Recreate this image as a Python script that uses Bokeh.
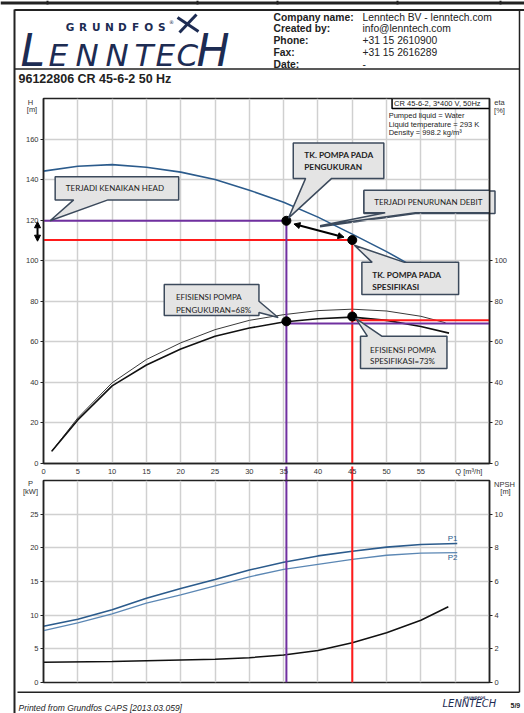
from bokeh.plotting import figure
from bokeh.models import Range1d, LinearAxis, FixedTicker, Arrow, NormalHead
from bokeh.layouts import column
from bokeh.embed import file_html
from bokeh.resources import INLINE
from bokeh.core.properties import value

# ---------------- data ----------------
q_head = [0, 5, 10, 15, 20, 25, 30, 35, 40, 45, 50, 55, 59]
head = [144.2, 146.6, 147.4, 146.1, 143.7, 140.1, 134.8, 128.8, 121.5, 113.1, 104.5, 95.0, 86.0]

q_eta_upper = [1.2, 5, 10, 15, 20, 25, 30, 35, 40, 45, 50, 55, 58.6]
eta_upper = [6.0, 22.5, 39.8, 51.3, 59.5, 66.0, 70.6, 73.4, 75.4, 76.1, 75.2, 72.6, 69.4]
q_eta_lower = [1.2, 5, 10, 15, 20, 25, 30, 35, 40, 45, 50, 55, 59.1]
eta_lower = [6.0, 21.5, 38.3, 48.6, 56.5, 62.8, 66.8, 69.8, 71.4, 72.2, 70.6, 67.6, 64.3]

q_power = [0, 5, 10, 15, 20, 25, 30, 35, 40, 45, 50, 55, 60.3]
p1 = [8.35, 9.4, 10.8, 12.5, 13.95, 15.3, 16.7, 17.85, 18.8, 19.5, 20.1, 20.5, 20.65]
p2 = [7.7, 8.85, 10.2, 11.8, 13.0, 14.35, 15.7, 16.8, 17.55, 18.3, 18.9, 19.2, 19.3]

q_npsh = [0, 10, 20, 25, 30, 35, 40, 45, 50, 55, 59]
npsh = [1.2, 1.25, 1.34, 1.38, 1.47, 1.64, 1.9, 2.36, 2.96, 3.7, 4.5]

# operating points (measured = purple, specification = red)
q_measured, h_measured, eta_measured, eta_measured_line = 35.4, 119.7, 70.1, 69.0
q_spec, h_spec, eta_spec, eta_spec_line = 45.0, 110.2, 72.5, 70.6

q_ticks = [0, 5, 10, 15, 20, 25, 30, 35, 40, 45, 50, 55]
q_grid = [0, 5, 10, 15, 20, 25, 30, 35, 40, 45, 50, 55, 60]
h_ticks = [0, 20, 40, 60, 80, 100, 120, 140, 160]
h_grid = [0, 20, 40, 60, 80, 100, 120, 140, 160, 180]
eta_ticks = [0, 20, 40, 60, 80, 100]
p_ticks = [0, 5, 10, 15, 20, 25]
p_grid = [0, 5, 10, 15, 20, 25, 30]
npsh_ticks = [0, 2, 4, 6, 8, 10]

company_labels = ["Company name:", "Created by:", "Phone:", "Fax:", "Date:"]
company_values = ["Lenntech BV - lenntech.com", "info@lenntech.com", "+31 15 2610900", "+31 15 2616289", "-"]
title_text = "96122806 CR 45-6-2 50 Hz"

# ---------------- styles / page geometry ----------------
NAVY = "#1d2c53"
BLUE = "#2b5b8c"
BLUE2 = "#5b87b4"
PURPLE = "#7030a0"
RED = "#ff1a1a"
GRID = "#d0d0d0"
DARK = "#222222"
AX_FONT = "Liberation Sans"
PW, PH = 524, 713
FL, FR = 43, 489            # chart frames, left/right (px)
TT, TB = 98, 466            # top chart frame top/bottom (px)
Q_MAX, H_MAX = 65, 180


def style_axis(ax):
    ax.axis_line_color = DARK
    ax.axis_line_width = 1.5
    ax.major_tick_line_color = DARK
    ax.major_tick_out = 3
    ax.major_tick_in = 0
    ax.minor_tick_line_color = None
    ax.major_label_text_font = AX_FONT
    ax.major_label_text_font_size = "7.5px"
    ax.major_label_text_color = "#333333"
    ax.major_label_standoff = 2


def callout_shape(x0, x1, y0, y1, side, b0, b1, tip):
    if side == "bottom":
        return [x0, x1, x1, b1, tip[0], b0, x0], [y1, y1, y0, y0, tip[1], y0, y0]
    if side == "top":
        return [x0, b0, tip[0], b1, x1, x1, x0], [y1, y1, tip[1], y1, y1, y0, y0]
    return [x0, x1, x1, tip[0], x1, x1, x0], [y1, y1, b1, tip[1], b0, y0, y0]


def callout(fig, shape, lines, tys, tx, bold=False, yr="default"):
    xs, ys = callout_shape(*shape)
    fig.patch(xs, ys, fill_color="#e4e4e4", line_color="#3c4a5c", line_width=1.5, y_range_name=yr)
    fig.text([tx] * len(lines), tys, text=lines, text_font=value("Lato"),
             text_font_size=value("8.3px" if bold else "8px"),
             text_font_style="bold" if bold else "normal",
             text_color="#222222", text_baseline="middle", text_align="left", y_range_name=yr)


# ---------------- page background (header, frame, footer, unit labels) ----------------
bg = figure(width=PW, height=PH, x_range=Range1d(0, PW), y_range=Range1d(PH, 0),
            min_border=0, x_axis_location=None, y_axis_location=None,
            toolbar_location=None, output_backend="svg", frame_align=False)
bg.grid.visible = False
bg.outline_line_color = None
px_q = (FR - FL) / Q_MAX
px_h = (TB - TT) / H_MAX
bg.extra_x_ranges = {"q": Range1d(-FL / px_q, (PW - FL) / px_q)}
bg.extra_y_ranges = {"h": Range1d((TB - PH) / px_h, TB / px_h)}

# page frame lines
bg.segment(x0=[0, 14, 14, 519, 14, 17], y0=[2.5, 9.5, 9, 9, 68.5, 691.7],
           x1=[PW, PW, 14, 519, 519, 519], y1=[2.5, 9.5, PH, 691.7, 68.5, 691.7],
           line_color=DARK, line_width=[3, 2, 2, 1.5, 1.5, 1.5])
bg.segment(x0=[47, 197, 277, 397, 500], y0=[0] * 5, x1=[47, 197, 277, 397, 500], y1=[4] * 5,
           line_color=DARK, line_width=2)

# GRUNDFOS / LENNTECH logo
bg.text([69.5 + 13.1 * i for i in range(8)], [26.5] * 8, text=list("GRUNDFOS"),
        text_font=value("DejaVu Sans"), text_font_size=value("10.5px"), text_font_style="bold",
        text_color=NAVY, text_align="center", text_baseline="middle")
bg.text([171], [21], text=["®"], text_font=value("DejaVu Sans"), text_font_size=value("5px"),
        text_color=NAVY, text_align="center", text_baseline="middle")
bg.segment(x0=[177, 179], y0=[17, 32], x1=[198, 196], y1=[31, 14], line_color=NAVY, line_width=3)
bg.text([20, 196], [49.5, 49.5], text=["L", "H"], text_font=value("DejaVu Sans"),
        text_font_size=value("44px"), text_font_style="italic", text_color=NAVY,
        text_align="left", text_baseline="middle")
bg.text([48, 75, 105, 134, 155, 176], [54.5] * 6, text=list("ENNTEC"), text_font=value("DejaVu Sans"),
        text_font_size=value("31px"), text_font_style="italic", text_color=NAVY,
        text_align="left", text_baseline="middle")

rows = [16.5 + 11.75 * i for i in range(5)]
bg.text([273] * 5, rows, text=company_labels, text_font=value(AX_FONT),
        text_font_size=value("10.3px"), text_font_style="bold", text_color=DARK,
        text_baseline="middle", text_align="left")
bg.text([362] * 5, rows, text=company_values, text_font=value(AX_FONT),
        text_font_size=value("10.3px"), text_color=DARK, text_baseline="middle", text_align="left")
bg.text([18], [78.5], text=[title_text], text_font=value(AX_FONT),
        text_font_size=value("12.5px"), text_font_style="bold", text_color=DARK,
        text_baseline="middle", text_align="left")

# axis unit labels
bg.text([30, 31.5, 499, 499, 30, 30, 504, 505], [101.7, 109, 101.7, 110, 482.7, 490.7, 484, 490.7],
        text=["H", "[m]", "eta", "[%]", "P", "[kW]", "NPSH", "[m]"], text_font=value(AX_FONT),
        text_font_size=value("7.5px"), text_color="#333333", text_align="center",
        text_baseline="middle")

# head-change arrow left of the axis, guide lines through the gap between charts
hk = dict(size=6, fill_color="black", line_color="black")
bg.add_layout(Arrow(start=NormalHead(**hk), end=NormalHead(**hk), x_start=-0.87, y_start=h_measured,
                    x_end=-0.87, y_end=h_spec, line_width=2, line_color="black",
                    x_range_name="q", y_range_name="h"))
bg.line([q_measured, q_measured], [0, -7.5], line_color=PURPLE, line_width=2,
        x_range_name="q", y_range_name="h")
bg.line([q_spec, q_spec], [0, -7.5], line_color=RED, line_width=2,
        x_range_name="q", y_range_name="h")
box3 = (46.7, 65.8, 123.7, 134.7, "bottom", 49.8, 54.2, (40.3, 117.3))
xs3, ys3 = callout_shape(*box3)
bg.patch(xs3, ys3, fill_color="#e4e4e4", line_color="#3c4a5c", line_width=1.5,
         x_range_name="q", y_range_name="h")

# footer
bg.text([18], [707.5], text=["Printed from Grundfos CAPS [2013.03.059]"], text_font=value(AX_FONT),
        text_font_size=value("8.5px"), text_font_style="italic", text_color=DARK,
        text_baseline="middle", text_align="left")
bg.text([442], [703], text=["LENNTECH"], text_font=value("DejaVu Sans"),
        text_font_size=value("10px"), text_font_style="italic", text_color=NAVY,
        text_baseline="middle", text_align="left")
bg.text([474], [697], text=["GRUNDFOS"], text_font=value("DejaVu Sans"),
        text_font_size=value("3.5px"), text_font_style="bold", text_color=NAVY,
        text_baseline="middle", text_align="center")
bg.text([510], [704.5], text=["5/9"], text_font=value(AX_FONT), text_font_size=value("7px"),
        text_font_style="bold", text_color=DARK, text_baseline="middle", text_align="left")

# ---------------- top chart: H and eta ----------------
top = figure(width=PW, height=382, x_range=Range1d(0, Q_MAX), y_range=Range1d(0, H_MAX),
             min_border_left=FL, min_border_right=PW - FR, min_border_top=2, min_border_bottom=12,
             toolbar_location=None, output_backend="svg", frame_align=False,
             background_fill_color=None, border_fill_color=None,
             styles={"margin-top": "-617px"})
top.extra_y_ranges = {"eta": Range1d(0, H_MAX)}
top.outline_line_color = DARK
top.outline_line_width = 1.5
top.xgrid.ticker = FixedTicker(ticks=q_grid)
top.ygrid.ticker = FixedTicker(ticks=h_grid)
top.grid.grid_line_color = GRID
top.grid.grid_line_width = 1.5
top.yaxis.ticker = FixedTicker(ticks=h_ticks)
style_axis(top.yaxis[0])
top.xaxis.ticker = FixedTicker(ticks=q_ticks + [62])
top.xaxis.major_label_overrides = {62: "Q [m³/h]"}
style_axis(top.xaxis[0])
top.xaxis.major_tick_out = 0
top.xaxis.major_label_standoff = 3
eta_axis = LinearAxis(y_range_name="eta", ticker=FixedTicker(ticks=eta_ticks))
style_axis(eta_axis)
top.add_layout(eta_axis, "right")

top.line(q_head, head, line_color=BLUE, line_width=1.6)
top.line(q_eta_upper, eta_upper, y_range_name="eta", line_color="#3a3a3a", line_width=1.0)
top.line(q_eta_lower, eta_lower, y_range_name="eta", line_color="#111111", line_width=1.6)

top.line([0, q_measured], [h_measured, h_measured], line_color=PURPLE, line_width=2)
top.line([0, q_spec], [h_spec, h_spec], line_color=RED, line_width=2)
top.line([q_measured, q_measured], [h_measured, 0], line_color=PURPLE, line_width=2)
top.line([q_spec, q_spec], [h_spec, 0], line_color=RED, line_width=2)
top.line([q_measured, Q_MAX + 0.5], [eta_measured_line, eta_measured_line], y_range_name="eta",
         line_color=PURPLE, line_width=2)
top.line([q_spec, Q_MAX + 0.5], [eta_spec_line, eta_spec_line], y_range_name="eta",
         line_color=RED, line_width=2)

top.scatter([q_measured, q_spec], [h_measured, h_spec], size=9, color="black")
top.scatter([q_measured, q_spec], [eta_measured, eta_spec], size=9, color="black", y_range_name="eta")
top.add_layout(Arrow(start=NormalHead(**hk), end=NormalHead(**hk), x_start=q_measured + 1.1,
                     y_start=h_measured - 1.6, x_end=q_spec - 1.2, y_end=h_spec + 1.4,
                     line_width=2, line_color="black"))

callout(top, (1.7, 19.7, 130.0, 141.4, "bottom", 4.4, 9.4, (0.96, h_measured)),
        ["TERJADI KENAIKAN HEAD"], [135.7], 3.25)
callout(top, (36.4, 49.6, 140.6, 158.1, "bottom", 38.2, 42.0, (q_measured + 0.3, h_measured + 1.3)),
        ["TK. POMPA PADA", "PENGUKURAN"], [152.3, 146.3], 38.0, bold=True)
callout(top, box3, ["TERJADI PENURUNAN DEBIT"], [128.9], 48.2)
callout(top, (46.4, 60.5, 83.3, 99.2, "top", 47.9, 52.6, (q_spec + 0.3, h_spec - 2.6)),
        ["TK. POMPA PADA", "SPESIFIKASI"], [93.2, 87.2], 47.9, bold=True)
callout(top, (17.6, 31.4, 73.0, 88.3, "right", 74.5, 80.0, (q_measured - 1.2, eta_measured + 1.9)),
        ["EFISIENSI POMPA", "PENGUKURAN=68%"], [82.3, 75.8], 19.3, yr="eta")
callout(top, (46.2, 58.8, 46.8, 62.8, "top", 47.2, 49.3, (q_spec + 0.5, eta_spec - 0.9)),
        ["EFISIENSI POMPA", "SPESIFIKASI=73%"], [56.2, 50.5], 47.6, yr="eta")

top.quad(left=[50.8], right=[Q_MAX], bottom=[175.1], top=[H_MAX], fill_color="white",
         line_color="black", line_width=1.5)
top.text([51.1], [177.5], text=["CR 45-6-2, 3*400 V, 50Hz"], text_font=value(AX_FONT),
         text_font_size=value("7.5px"), text_color=DARK, text_baseline="middle", text_align="left")
top.text([50.3] * 3, [171.4, 167.3, 163.2],
         text=["Pumped liquid = Water", "Liquid temperature = 293 K", "Density = 998.2 kg/m³"],
         text_font=value(AX_FONT), text_font_size=value("7.5px"), text_color=DARK,
         text_baseline="middle", text_align="left")

# ---------------- bottom chart: P and NPSH ----------------
bot = figure(width=PW, height=212, x_range=Range1d(0, Q_MAX), y_range=Range1d(0, 30),
             min_border_left=FL, min_border_right=PW - FR, min_border_top=2, min_border_bottom=8,
             x_axis_location=None, toolbar_location=None, output_backend="svg", frame_align=False,
             background_fill_color=None, border_fill_color=None)
bot.extra_y_ranges = {"npsh": Range1d(0, 12)}
bot.outline_line_color = DARK
bot.outline_line_width = 1.5
bot.xgrid.ticker = FixedTicker(ticks=q_grid)
bot.ygrid.ticker = FixedTicker(ticks=p_grid)
bot.grid.grid_line_color = GRID
bot.grid.grid_line_width = 1.5
bot.yaxis.ticker = FixedTicker(ticks=p_ticks)
style_axis(bot.yaxis[0])
npsh_axis = LinearAxis(y_range_name="npsh", ticker=FixedTicker(ticks=npsh_ticks))
style_axis(npsh_axis)
bot.add_layout(npsh_axis, "right")

bot.line(q_power, p1, line_color=BLUE, line_width=1.6)
bot.line(q_power, p2, line_color=BLUE2, line_width=1.3)
bot.line(q_npsh, npsh, y_range_name="npsh", line_color="#111111", line_width=1.5)
bot.line([q_measured, q_measured], [30, 0], line_color=PURPLE, line_width=2)
bot.line([q_spec, q_spec], [30, 0], line_color=RED, line_width=2)
bot.text([q_power[-1] - 1.4, q_power[-1] - 1.4], [p1[-1] + 0.7, p2[-1] - 0.8], text=["P1", "P2"],
         text_font=value(AX_FONT), text_font_size=value("8px"), text_color=BLUE,
         text_baseline="middle", text_align="left")

layout = column(bg, top, bot, spacing=0)
open("out.html", "w").write(file_html(layout, INLINE, "Pump curve"))
